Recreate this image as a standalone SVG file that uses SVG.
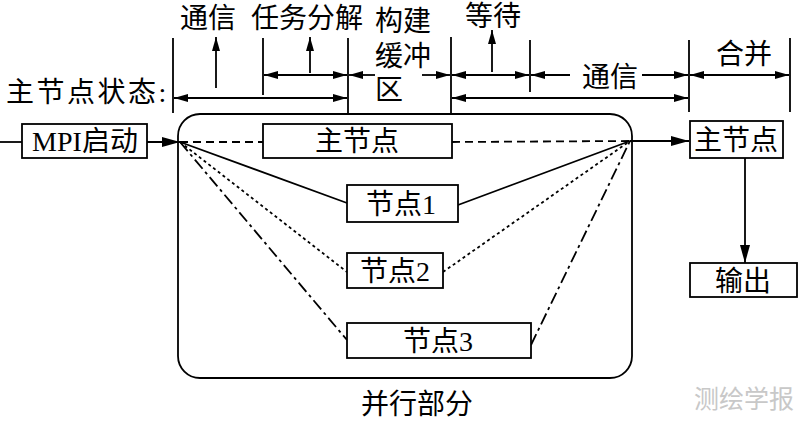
<svg xmlns="http://www.w3.org/2000/svg" width="800" height="423" viewBox="0 0 800 423">
<defs>
<marker id="ah" viewBox="0 0 14 8" refX="14" refY="4" markerWidth="14" markerHeight="8" markerUnits="userSpaceOnUse" orient="auto-start-reverse"><path d="M0,0 L14,4 L0,8 z" fill="#000"/></marker>
<marker id="ahb" viewBox="0 0 18 10" refX="18" refY="5" markerWidth="18" markerHeight="10" markerUnits="userSpaceOnUse" orient="auto-start-reverse"><path d="M0,0 L18,5 L0,10 z" fill="#000"/></marker>
</defs>
<style>
text{font-family:"Liberation Serif","Noto Sans CJK SC",serif;font-size:28px;fill:#000}
.c{text-anchor:middle}
.box{fill:#fff;stroke:#000;stroke-width:1.8}
.ln{stroke:#000;stroke-width:1.8;fill:none}
.a{marker-end:url(#ah)}
.aa{marker-start:url(#ah);marker-end:url(#ah)}
.ab{marker-end:url(#ahb)}
.dash{stroke-dasharray:8 5}
.dot{stroke-dasharray:3 3}
.dd{stroke-dasharray:12 4 3 4}
</style>
<rect width="800" height="423" fill="#fff"/>

<g id="timeline">
<line class="ln" x1="173" y1="38" x2="173" y2="113"/>
<line class="ln" x1="263" y1="38" x2="263" y2="95"/>
<line class="ln" x1="348" y1="38" x2="348" y2="114"/>
<line class="ln" x1="451" y1="37" x2="451" y2="114"/>
<line class="ln" x1="530" y1="40" x2="530" y2="92"/>
<line class="ln" x1="689" y1="40" x2="689" y2="112"/>
<line class="ln" x1="790" y1="38" x2="790" y2="112"/>
<line class="ln aa" x1="264" y1="75" x2="347" y2="75"/>
<line class="ln a" x1="375" y1="75" x2="349" y2="75"/>
<line class="ln a" x1="422" y1="75" x2="450" y2="75"/>
<line class="ln aa" x1="452" y1="75" x2="529" y2="75"/>
<line class="ln a" x1="570" y1="75" x2="531" y2="75"/>
<line class="ln a" x1="642" y1="75" x2="688" y2="75"/>
<line class="ln aa" x1="690" y1="75" x2="789" y2="75"/>
<line class="ln aa" x1="174" y1="98" x2="347" y2="98"/>
<line class="ln aa" x1="452" y1="98" x2="688" y2="98"/>
<line class="ln a" x1="216" y1="88" x2="216" y2="37"/>
<line class="ln a" x1="310" y1="73" x2="310" y2="37"/>
<line class="ln a" x1="492" y1="72" x2="492" y2="30"/>
<text x="6" y="102" style="letter-spacing:2.5px">主节点状态:</text>
<text class="c" x="208" y="28">通信</text>
<text class="c" x="307" y="28">任务分解</text>
<text class="c" x="403" y="31">构建</text>
<text class="c" x="403" y="66">缓冲</text>
<text x="375" y="100">区</text>
<text class="c" x="493" y="26">等待</text>
<rect x="582" y="62" width="56" height="28" fill="#fff"/>
<text class="c" x="610" y="87">通信</text>
<text class="c" x="744" y="64">合并</text>
</g>

<g id="parallel">
<rect class="ln" x="178" y="114" width="454" height="264" rx="22" ry="22"/>
<text class="c" x="417" y="414">并行部分</text>
</g>

<g id="connectors">
<line class="ln" x1="0" y1="142" x2="22" y2="142"/>
<line class="ln ab" x1="147" y1="142" x2="180" y2="142"/>
<line class="ln dash" x1="180" y1="142" x2="263" y2="142"/>
<line class="ln dash" x1="452" y1="142" x2="630" y2="141"/>
<line class="ln" x1="180" y1="142" x2="347" y2="203"/>
<line class="ln" x1="458" y1="205" x2="630" y2="141"/>
<line class="ln dot" x1="180" y1="142" x2="347" y2="272"/>
<line class="ln dot" x1="443" y1="272" x2="630" y2="141"/>
<line class="ln dd" x1="180" y1="142" x2="347" y2="340"/>
<line class="ln dd" x1="531" y1="345" x2="630" y2="141"/>
<line class="ln ab" x1="630" y1="141" x2="689" y2="141"/>
<line class="ln ab" x1="745" y1="158" x2="745" y2="263"/>
</g>

<g id="mpi"><rect class="box" x="22" y="124" width="125" height="34"/><text class="c" x="85" y="151">MPI启动</text></g>
<g id="master-inner"><rect class="box" x="263" y="124" width="189" height="34"/><text class="c" x="357" y="151">主节点</text></g>
<g id="node1"><rect class="box" x="347" y="185" width="111" height="37"/><text class="c" x="401" y="214">节点1</text></g>
<g id="node2"><rect class="box" x="347" y="253" width="96" height="35"/><text class="c" x="395" y="281">节点2</text></g>
<g id="node3"><rect class="box" x="347" y="323" width="184" height="35"/><text class="c" x="438" y="351">节点3</text></g>
<g id="master-out"><rect class="box" x="690" y="121" width="93" height="37"/><text class="c" x="736" y="150">主节点</text></g>
<g id="output"><rect class="box" x="690" y="263" width="107" height="34"/><text class="c" x="743" y="291">输出</text></g>
<text class="c" x="744" y="408" style="font-size:25px;fill:#c8c8c8">测绘学报</text>
</svg>
